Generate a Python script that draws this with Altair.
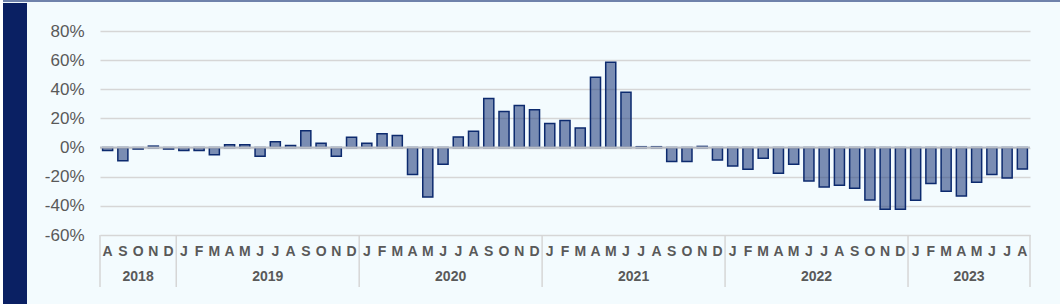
import altair as alt
import pandas as pd

# ---- data ----
year_labels = ["2018", "2019", "2020", "2021", "2022", "2023"]
months_per_year = [5, 12, 12, 12, 12, 8]
month_letters = (
    ["A", "S", "O", "N", "D"]
    + ["J", "F", "M", "A", "M", "J", "J", "A", "S", "O", "N", "D"] * 4
    + ["J", "F", "M", "A", "M", "J", "J", "A"]
)
values = [
    # 2018 Aug-Dec
    -2, -9, -1, 1, -1,
    # 2019
    -2, -2, -5, 2, 2, -6, 4, 1.5, 11.5, 3, -6, 7,
    # 2020
    3, 9.4, 8.2, -18.5, -34, -11.5, 7.3, 11.2, 33.7, 24.7, 28.9, 25.9,
    # 2021
    16.5, 18.6, 13.5, 48.3, 58.6, 38, 0.6, 0.6, -9.6, -9.6, 0.8, -8.5,
    # 2022
    -12.6, -14.9, -7.3, -17.6, -11.5, -22.9, -27, -25.9, -28, -36, -42.4, -42.4,
    # 2023 Jan-Aug
    -36.2, -24.7, -30, -33.2, -23.8, -18.5, -20.9, -14.7,
]
y_ticks = [-60, -40, -20, 0, 20, 40, 60, 80]

# ---- tables built from the lists ----
df = pd.DataFrame({"i": list(range(len(values))), "m": month_letters, "v": values})
centers, bounds = [], [0]
s = 0
for n in months_per_year:
    centers.append(s + n / 2)
    s += n
    bounds.append(s)
years_df = pd.DataFrame({"year": year_labels, "c": centers})
bounds_df = pd.DataFrame({"b": bounds})

N = len(values)
W, H = 930, 204
FONT = "Liberation Sans"
TXT = "#595959"
xscale = alt.Scale(domain=[0, N], nice=False, zero=False)
yscale = alt.Scale(domain=[-60, 80], nice=False, zero=False)
yaxis = alt.Axis(
    values=y_ticks,
    labelExpr="datum.value + '%'",
    grid=True,
    gridColor="#d6d6d6",
    gridWidth=1.5,
    domain=False,
    ticks=False,
    labelPadding=16,
    labelFontSize=17,
    labelColor=TXT,
    labelFont=FONT,
)

base = alt.Chart(df)

bars = base.transform_calculate(
    x0="datum.i + 0.17", x1="datum.i + 0.83"
).mark_bar(
    fill="#2a4580", fillOpacity=0.6, stroke="#0c2a6e", strokeWidth=1.5
).encode(
    x=alt.X("x0:Q", scale=xscale, axis=None),
    x2="x1:Q",
    y=alt.Y("v:Q", scale=yscale, title=None, axis=yaxis),
    y2=alt.datum(0),
)

zero = alt.Chart(pd.DataFrame({"v": [0]})).mark_rule(
    color="#b9bec6", strokeWidth=2
).encode(y=alt.Y("v:Q", scale=yscale, title=None, axis=yaxis))

month_text = base.transform_calculate(xc="datum.i + 0.5").mark_text(
    font=FONT, fontSize=14, fontWeight="bold", color=TXT, baseline="middle"
).encode(
    x=alt.X("xc:Q", scale=xscale, axis=None),
    y=alt.value(H + 17),
    text="m:N",
)

year_text = alt.Chart(years_df).mark_text(
    font=FONT, fontSize=14, fontWeight="bold", color=TXT, baseline="middle"
).encode(
    x=alt.X("c:Q", scale=xscale, axis=None),
    y=alt.value(H + 42),
    text="year:N",
)

seps = alt.Chart(bounds_df).mark_rule(color="#d6d6d6", strokeWidth=1.5).encode(
    x=alt.X("b:Q", scale=xscale, axis=None),
    y=alt.value(H),
    y2=alt.value(H + 52),
)

# decorative frame: navy band on the left, thin border on top
band = alt.Chart(pd.DataFrame({"k": [0]})).mark_rect(color="#0a2063").encode(
    x=alt.value(-97), x2=alt.value(-73), y=alt.value(-28), y2=alt.value(H + 69)
)
white_strip = alt.Chart(pd.DataFrame({"k": [0]})).mark_rect(color="#ffffff").encode(
    x=alt.value(-100), x2=alt.value(-97), y=alt.value(-31), y2=alt.value(H + 69)
)
top_line = alt.Chart(pd.DataFrame({"k": [0]})).mark_rule(
    color="#6f82ab", strokeWidth=2
).encode(x=alt.value(-97), x2=alt.value(W + 30), y=alt.value(-30))

chart = alt.layer(
    white_strip, band, top_line, seps, bars, zero, month_text, year_text
).properties(
    width=W,
    height=H,
    background="#f3fbfe",
    padding={"left": 100, "top": 31, "right": 30, "bottom": 69},
    autosize=alt.AutoSizeParams(type="none"),
).configure_view(stroke=None)

chart.save("out.html", embed_options={"renderer": "svg", "actions": False})
